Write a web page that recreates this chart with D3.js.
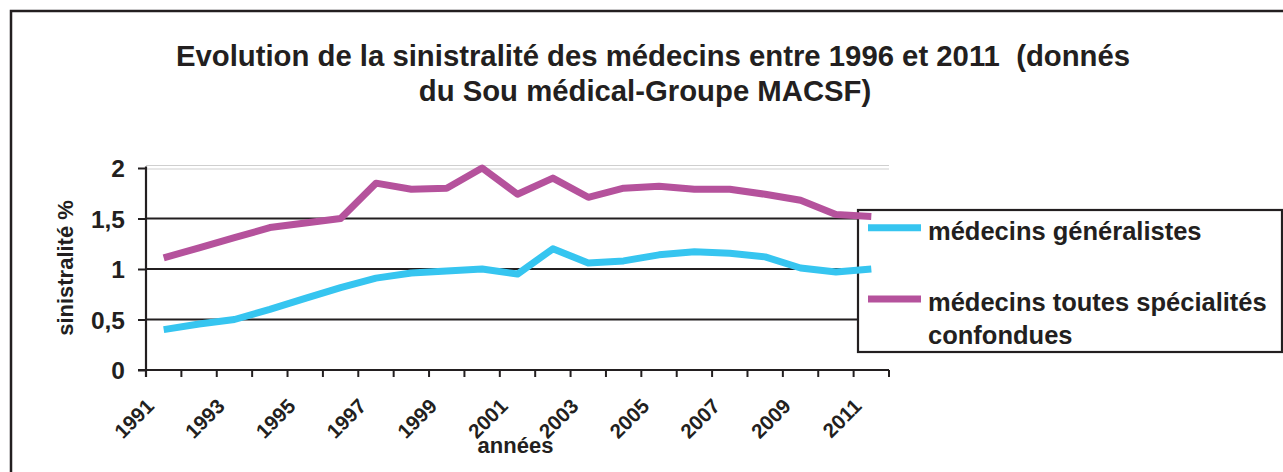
<!DOCTYPE html>
<html>
<head>
<meta charset="utf-8">
<script src="https://cdn.jsdelivr.net/npm/d3@7"></script>
<style>
  html, body { margin: 0; padding: 0; background: #fff; }
  svg { display: block; }
  text { font-family: "Liberation Sans", Arial, sans-serif; font-weight: bold; fill: #231f20; }
</style>
</head>
<body>
<script>
// ---- data ----
const years = [1991, 1992, 1993, 1994, 1995, 1996, 1997, 1998, 1999, 2000, 2001,
               2002, 2003, 2004, 2005, 2006, 2007, 2008, 2009, 2010, 2011];
const generalistes = [0.40, 0.455, 0.50, 0.60, 0.71, 0.815, 0.91, 0.96, 0.98, 1.00, 0.95,
                      1.20, 1.06, 1.08, 1.14, 1.17, 1.155, 1.12, 1.01, 0.97, 1.00];
const toutesSpecialites = [1.11, 1.21, 1.31, 1.41, 1.455, 1.50, 1.85, 1.79, 1.80, 2.00, 1.74,
                           1.90, 1.71, 1.80, 1.82, 1.79, 1.79, 1.74, 1.68, 1.54, 1.52];
const yTicks = [0, 0.5, 1, 1.5, 2];
const yTickLabels = ["0", "0,5", "1", "1,5", "2"];
const xTickLabels = ["1991", "1993", "1995", "1997", "1999", "2001", "2003", "2005", "2007", "2009", "2011"];
const seriesNames = ["médecins généralistes", "médecins toutes spécialités|confondues"];
const seriesColors = ["#36c5f0", "#b5529c"];
const titleLines = ["Evolution de la sinistralité des médecins entre 1996 et 2011  (donnés", "du Sou médical-Groupe MACSF)"];

const W = 1283, H = 472;
const ink = "#231f20";
const svg = d3.select("body").append("svg").attr("width", W).attr("height", H);
svg.append("rect").attr("width", W).attr("height", H).attr("fill", "#fff");

// outer frame (only left and top visible)
svg.append("path").attr("d", `M11,${H} L11,11 L${W},11`)
  .attr("fill", "none").attr("stroke", ink).attr("stroke-width", 2.5);

// title
const titleCenters = [653, 645];
const titleBase = [66, 100.5];
titleLines.forEach((t, i) => {
  svg.append("text").attr("x", titleCenters[i]).attr("y", titleBase[i])
    .attr("text-anchor", "middle").attr("font-size", 29.3).style("white-space", "pre").text(t);
});

// scales
const x = d3.scaleBand().domain(years).range([146, 889]);
const cx = d => x(d) + x.bandwidth() / 2;
const y = d3.scaleLinear().domain([0, 2]).range([370, 168]);

// gridlines
const legendX = 858;
svg.append("line").attr("x1", 146).attr("x2", 889).attr("y1", y(2) - 2.5).attr("y2", y(2) - 2.5)
  .attr("stroke", "#cfcfcf").attr("stroke-width", 1);
svg.append("line").attr("x1", 146).attr("x2", 889).attr("y1", y(2) + 1).attr("y2", y(2) + 1)
  .attr("stroke", "#cfcfcf").attr("stroke-width", 1);
svg.selectAll("line.grid").data(yTicks.filter(v => v > 0 && v < 2)).enter().append("line")
  .attr("class", "grid").attr("x1", 146).attr("x2", legendX)
  .attr("y1", d => y(d)).attr("y2", d => y(d))
  .attr("stroke", ink).attr("stroke-width", 2);

// y axis
const yAxis = d3.axisLeft(y).tickValues(yTicks).tickSize(8).tickPadding(13)
  .tickFormat((d, i) => yTickLabels[i]);
const gy = svg.append("g").attr("transform", "translate(146,0)").call(yAxis);
gy.select(".domain").attr("stroke", ink).attr("stroke-width", 2.2).attr("d", `M0,${y(2) - 1.5}V${y(0) + 7}`);
gy.selectAll(".tick line").attr("stroke", ink).attr("stroke-width", 2);
gy.selectAll(".tick text").attr("font-size", 24.5).attr("font-family", "Liberation Sans, Arial, sans-serif")
  .attr("font-weight", "bold").attr("fill", ink).attr("dy", "0.36em");

// x axis
const xAxis = d3.axisBottom(x).tickSize(0).tickFormat("");
const gx = svg.append("g").attr("transform", `translate(0,${y(0)})`).call(xAxis);
gx.select(".domain").attr("stroke", ink).attr("stroke-width", 2.2).attr("d", `M138,0H889`);
gx.selectAll(".tick").remove();
// category boundary ticks
const bounds = years.map(d => x(d)).concat([x(years[years.length - 1]) + x.bandwidth()]);
gx.selectAll("line.xt").data(bounds).enter().append("line").attr("class", "xt")
  .attr("x1", d => d).attr("x2", d => d).attr("y1", 0).attr("y2", 7)
  .attr("stroke", ink).attr("stroke-width", 2);
// rotated labels
svg.selectAll("text.xl").data(xTickLabels).enter().append("text").attr("class", "xl")
  .attr("text-anchor", "end").attr("font-size", 20.5)
  .attr("transform", d => `translate(${cx(+d) - 8.5},${407.5}) rotate(-45)`)
  .text(d => d);

// axis titles
svg.append("text").attr("transform", `translate(73,${268}) rotate(-90)`)
  .attr("text-anchor", "middle").attr("font-size", 22).text("sinistralité %");
svg.append("text").attr("x", 515.5).attr("y", 453).attr("text-anchor", "middle")
  .attr("font-size", 22).text("années");

// legend box (under the series lines)
svg.append("rect").attr("x", legendX).attr("y", 210).attr("width", 1282 - legendX).attr("height", 142)
  .attr("fill", "#fff").attr("stroke", ink).attr("stroke-width", 2.2);

// series lines
const line = d3.line().x((d, i) => cx(years[i])).y(d => y(d));
[generalistes, toutesSpecialites].forEach((s, i) => {
  svg.append("path").datum(s).attr("d", line).attr("fill", "none")
    .attr("stroke", seriesColors[i]).attr("stroke-width", 7).attr("stroke-linejoin", "round");
});

// legend content
const legY = [227.7, 299];
seriesNames.forEach((n, i) => {
  svg.append("line").attr("x1", 868).attr("x2", 921).attr("y1", legY[i]).attr("y2", legY[i])
    .attr("stroke", seriesColors[i]).attr("stroke-width", 7);
  n.split("|").forEach((part, j) => {
    svg.append("text").attr("x", 928).attr("y", legY[i] + 12 + j * 32.7)
      .attr("font-size", 25.5).text(part);
  });
});
</script>
</body>
</html>
